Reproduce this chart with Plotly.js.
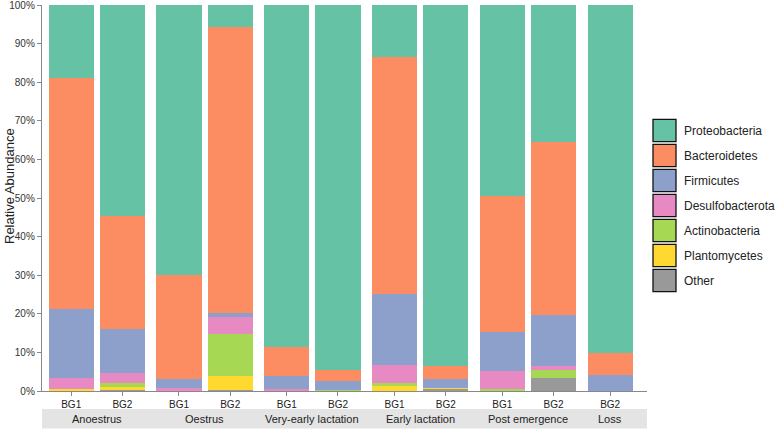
<!DOCTYPE html>
<html>
<head>
<meta charset="utf-8">
<script src="https://cdn.plot.ly/plotly-3.0.1.min.js"></script>
<style>html,body{margin:0;padding:0;background:#fff;}#chart{width:777px;height:429px;}</style>
</head>
<body>
<div id="chart"></div>
<script>
// Bars (left to right)
const groups  = ["Anoestrus","Anoestrus","Oestrus","Oestrus","Very-early lactation","Very-early lactation","Early lactation","Early lactation","Post emergence","Post emergence","Loss"];
const samples = ["BG1","BG2","BG1","BG2","BG1","BG2","BG1","BG2","BG1","BG2","BG2"];

// Relative abundance (%) per phylum, one value per bar
const proteobacteria   = [18.8, 54.7, 70.0,  5.8, 88.5, 94.6, 13.35, 93.45, 49.4, 35.4, 90.1];
const bacteroidetes    = [60.0, 29.2, 26.9, 74.1,  7.5,  2.8, 61.4,   3.45, 35.2, 44.8,  5.75];
const firmicutes       = [17.8, 11.5,  2.2,  1.0,  3.5,  2.3, 18.5,   2.25, 10.1, 13.25, 4.05];
const desulfobacterota = [ 2.8,  2.6,  0.8,  4.2,  0.4,  0.05, 4.6,   0.05,  4.8,  1.1,  0.0];
const actinobacteria   = [ 0.1,  1.0,  0.0, 11.0,  0.0,  0.15, 0.8,   0.1,   0.4,  2.0,  0.0];
const plantomycetes    = [ 0.4,  0.7,  0.0,  3.7,  0.0,  0.05, 1.3,   0.2,   0.0,  0.1,  0.0];
const other            = [ 0.1,  0.3,  0.1,  0.2,  0.1,  0.05, 0.05,  0.5,   0.1,  3.35, 0.1];

const seriesNames  = ["Proteobacteria","Bacteroidetes","Firmicutes","Desulfobacterota","Actinobacteria","Plantomycetes","Other"];
const seriesValues = [proteobacteria, bacteroidetes, firmicutes, desulfobacterota, actinobacteria, plantomycetes, other];
const seriesColors = ["#66C2A5","#FC8D62","#8DA0CB","#E78AC3","#A6D854","#FFD92F","#999999"];

const yTickVals = [0,10,20,30,40,50,60,70,80,90,100];
const yTickText = yTickVals.map(v => v + "%");

// positions: bar index plus a small extra gap between groups
const groupOrder = [];
groups.forEach(g => { if (!groupOrder.includes(g)) groupOrder.push(g); });
const GAP = 0.105;
const xpos = groups.map((g, i) => i + groupOrder.indexOf(g) * GAP);

// traces: stacked bottom (Other) to top (Proteobacteria)
const traces = [];
for (let s = seriesNames.length - 1; s >= 0; s--) {
  traces.push({
    type: "bar",
    name: seriesNames[s],
    x: xpos,
    y: seriesValues[s],
    width: 0.88,
    marker: {color: seriesColors[s], line: {width: 0}},
    showlegend: false,
    hoverinfo: "name+y"
  });
}

const H = 386; // plot height px (for paper conversions)
const shapes = [];
const annotations = [];
const FONT = "Liberation Sans, Arial, sans-serif";

// grey strip under the axis
shapes.push({type: "rect", xref: "paper", yref: "paper", x0: 0, x1: 1, y0: -18/H, y1: -37.5/H,
  fillcolor: "#e4e4e4", line: {width: 0}, layer: "below"});

// group labels centred under their bars
groupOrder.forEach(g => {
  const xs = xpos.filter((x, i) => groups[i] === g);
  const cx = xs.reduce((a, b) => a + b, 0) / xs.length;
  annotations.push({x: cx, xref: "x", y: -27.5/H, yref: "paper", text: g, showarrow: false,
    xanchor: "center", yanchor: "middle", font: {family: FONT, size: 11, color: "#222"}});
});

// y title
annotations.push({x: -33/605, xref: "paper", y: (391-186)/H, yref: "paper", text: "Relative Abundance", textangle: -90,
  showarrow: false, xanchor: "center", yanchor: "middle", font: {family: FONT, size: 13, color: "#222"}});

// custom legend with large outlined swatches
const legTop = (391 - 119.3) / H, pitch = 25 / H, boxH = 22.4 / H;
seriesNames.forEach((n, i) => {
  const y1 = legTop - i * pitch, y0 = y1 - boxH;
  shapes.push({type: "rect", xref: "paper", yref: "paper", x0: (653-42)/605, x1: (676-42)/605, y0: y0, y1: y1,
    fillcolor: seriesColors[i], line: {color: "#111", width: 1.3}});
  annotations.push({x: (682-42)/605, xref: "paper", y: (y0 + y1) / 2, yref: "paper", text: n, showarrow: false,
    xanchor: "left", yanchor: "middle", font: {family: FONT, size: 12, color: "#222"}});
});

const layout = {
  width: 777, height: 429,
  margin: {l: 42, r: 130, t: 5, b: 38, pad: 0},
  paper_bgcolor: "#fff", plot_bgcolor: "#fff",
  barmode: "stack",
  bargap: 0,
  showlegend: false,
  font: {family: FONT, color: "#222"},
  xaxis: {
    type: "linear",
    range: [-0.57, xpos[xpos.length - 1] + 0.72],
    tickmode: "array", tickvals: xpos, ticktext: samples,
    ticks: "outside", ticklen: 4, tickcolor: "#888", tickwidth: 1,
    showline: true, linecolor: "#888", linewidth: 1.2,
    showgrid: false, zeroline: false,
    tickfont: {size: 10, color: "#222"},
    fixedrange: true
  },
  yaxis: {
    range: [0, 100.02],
    tickmode: "array", tickvals: yTickVals, ticktext: yTickText,
    ticks: "outside", ticklen: 4, tickcolor: "#888", tickwidth: 1,
    ticklabeloverflow: "allow",
    showline: true, linecolor: "#888", linewidth: 1.2,
    showgrid: false, zeroline: false,
    tickfont: {size: 10, color: "#333"},
    fixedrange: true
  },
  shapes: shapes,
  annotations: annotations
};

Plotly.newPlot("chart", traces, layout, {displayModeBar: false, staticPlot: true});
</script>
</body>
</html>
